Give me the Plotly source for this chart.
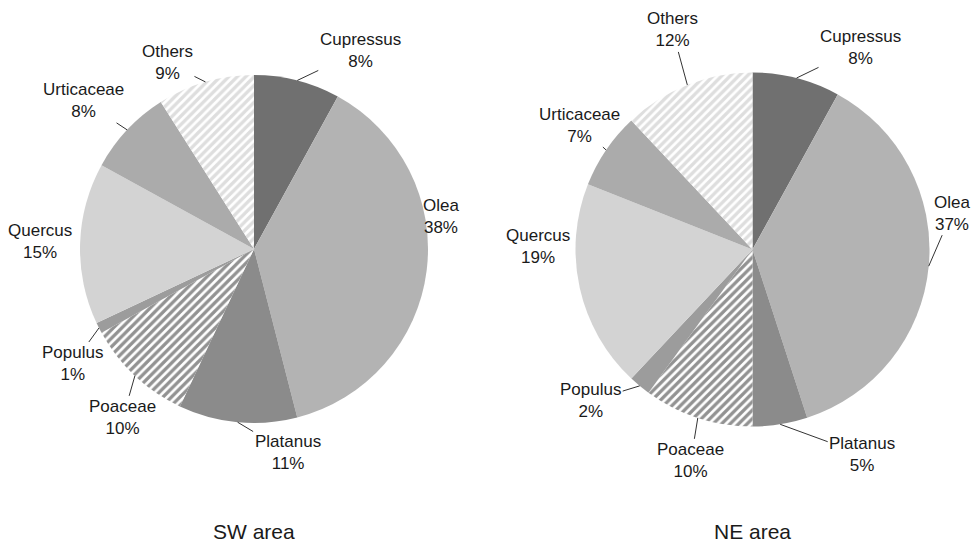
import math
import plotly.graph_objects as go

# ---- data ----
categories = ["Cupressus", "Olea", "Platanus", "Poaceae", "Populus", "Quercus", "Urticaceae", "Others"]
sw_values = [8, 38, 11, 10, 1, 15, 8, 9]
ne_values = [8, 37, 5, 10, 2, 19, 7, 12]
panel_titles = ["SW area", "NE area"]

# ---- styling ----
W, H = 973, 542
slice_colors = ["#707070", "#b3b3b3", "#8b8b8b", "#ffffff", "#9c9c9c", "#d3d3d3", "#ababab", "#ffffff"]
pattern_shapes = ["", "", "", "/", "", "", "", "/"]
pattern_fg = ["#707070", "#b3b3b3", "#8b8b8b", "#262626", "#9c9c9c", "#d3d3d3", "#ababab", "#bdbdbd"]

# pie geometry in pixels: centre x, centre y, radius
pie_geom = [(254, 249, 174), (752.5, 249.5, 177)]

# label offsets (pixels from slice edge point) and leader-line flags
label_offsets = [
    {"Cupressus": (63, -30), "Olea": (14, -54), "Platanus": (50, 30), "Poaceae": (-12, 42),
     "Populus": (-26, 36), "Quercus": (-40, -2), "Urticaceae": (-44, -29), "Others": (-38, -19)},
    {"Cupressus": (64, -31), "Olea": (23, -53), "Platanus": (82, 30), "Poaceae": (-7, 43),
     "Populus": (-49, 15), "Quercus": (-42, -42), "Urticaceae": (-27, -25), "Others": (-15, -55)},
]
leaders = [
    {"Cupressus": True, "Olea": False, "Platanus": True, "Poaceae": True,
     "Populus": True, "Quercus": False, "Urticaceae": True, "Others": True},
    {"Cupressus": True, "Olea": True, "Platanus": True, "Poaceae": True,
     "Populus": True, "Quercus": False, "Urticaceae": True, "Others": True},
]

FONT = "Liberation Sans, Arial, sans-serif"
TXT = "#1a1a1a"

fig = go.Figure()
annotations = []

for i, vals in enumerate([sw_values, ne_values]):
    cx, cy, r = pie_geom[i]
    fig.add_trace(go.Pie(
        labels=categories,
        values=vals,
        sort=False,
        direction="clockwise",
        rotation=0,
        textinfo="none",
        hoverinfo="label+percent",
        showlegend=False,
        domain=dict(x=[(cx - r) / W, (cx + r) / W], y=[1 - (cy + r) / H, 1 - (cy - r) / H]),
        marker=dict(
            colors=slice_colors,
            line=dict(width=0),
            pattern=dict(shape=pattern_shapes, fgcolor=pattern_fg, fillmode="overlay",
                         size=6, solidity=0.55),
        ),
    ))
    total = sum(vals)
    cum = 0
    for cat, v in zip(categories, vals):
        mid = (cum + v / 2) / total * 2 * math.pi
        cum += v
        ex = cx + r * math.sin(mid)
        ey = cy - r * math.cos(mid)
        dx, dy = label_offsets[i][cat]
        text = f"{cat}<br>{round(v / total * 100)}%"
        if leaders[i][cat]:
            annotations.append(dict(
                x=ex / W, y=1 - ey / H, xref="paper", yref="paper",
                ax=dx, ay=dy, text=text, showarrow=True, arrowhead=0,
                arrowwidth=1, arrowcolor="#333333", standoff=0,
                font=dict(family=FONT, size=17, color=TXT), align="center",
            ))
        else:
            annotations.append(dict(
                x=ex / W, y=1 - ey / H, xref="paper", yref="paper",
                xanchor="center", yanchor="middle",
                xshift=dx, yshift=-dy, text=text, showarrow=False,
                font=dict(family=FONT, size=17, color=TXT), align="center",
            ))
    annotations.append(dict(
        x=cx / W, y=1 - 531 / H, xref="paper", yref="paper", text=panel_titles[i],
        showarrow=False, font=dict(family=FONT, size=21, color=TXT),
        xanchor="center", yanchor="middle",
    ))

fig.update_layout(
    width=W, height=H,
    margin=dict(l=0, r=0, t=0, b=0),
    paper_bgcolor="white", plot_bgcolor="white",
    annotations=annotations,
)

fig.write_html("out.html")
